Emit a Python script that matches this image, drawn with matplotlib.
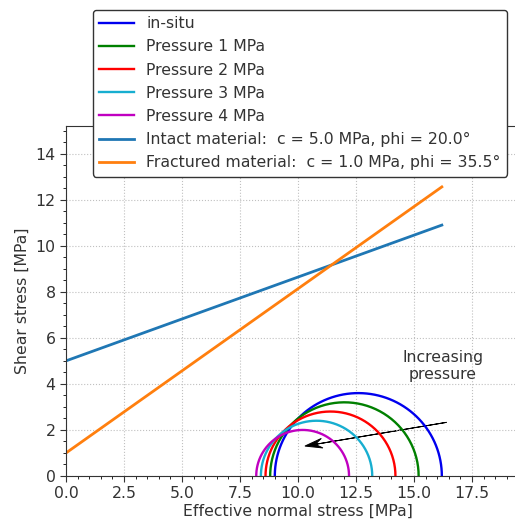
import numpy as np
import matplotlib.pyplot as plt

# Mohr circles for in-situ stress and increasing fluid pressure
labels = ["in-situ", "Pressure 1 MPa", "Pressure 2 MPa", "Pressure 3 MPa", "Pressure 4 MPa"]
sigma3 = [9.0, 8.8, 8.6, 8.4, 8.2]
sigma1 = [16.2, 15.2, 14.2, 13.2, 12.2]
circle_colors = ["#0000ee", "#008000", "#ff0000", "#17aed0", "#c000c0"]

# failure envelopes: tau = c + sigma * tan(phi)
env_names = ["Intact material", "Fractured material"]
cohesion = [5.0, 1.0]
phi_deg = [20.0, 35.5]
env_colors = ["#1f77b4", "#ff7f0e"]

plt.rcParams["font.family"] = "DejaVu Sans"
plt.rcParams["font.size"] = 11.3
dark = "#333333"

fig = plt.figure(figsize=(5.15, 5.26), dpi=100)
ax = fig.add_axes([66 / 515, 50 / 526, 464 / 515, 350 / 526])

theta = np.linspace(0, np.pi, 200)
for s3, s1, col, lab in zip(sigma3, sigma1, circle_colors, labels):
    c = (s1 + s3) / 2
    r = (s1 - s3) / 2
    ax.plot(c + r * np.cos(theta), r * np.sin(theta), color=col, lw=1.7, label=lab)

sig = np.linspace(0, max(sigma1), 50)
for name, c0, ph, col in zip(env_names, cohesion, phi_deg, env_colors):
    ax.plot(sig, c0 + sig * np.tan(np.radians(ph)), color=col, lw=2,
            label=f"{name}:  c = {c0:.1f} MPa, phi = {ph:.1f}°")

ax.arrow(16.4, 2.33, -6.1, -1.03, head_width=0.42, head_length=0.75, overhang=0.4,
         length_includes_head=True, color="k", lw=0.7)
ax.text(16.25, 4.78, "Increasing\npressure", ha="center", va="center", color=dark)

ax.set_xlim(0, 20)
ax.set_ylim(0, 15.2)
ax.set_xticks(np.arange(0, 20, 2.5))
ax.set_yticks(np.arange(0, 16, 2))
ax.minorticks_on()
ax.grid(True, which="major", ls=":", color="#c0c0c0", lw=0.8)
ax.tick_params(colors=dark, labelcolor=dark)
ax.tick_params(which="major", length=4)
ax.tick_params(which="minor", length=2.5)
for sp in ax.spines.values():
    sp.set_color(dark)
ax.set_xlabel("Effective normal stress [MPa]", color=dark, labelpad=2)
ax.set_ylabel("Shear stress [MPa]", color=dark)

leg = ax.legend(loc="upper left", bbox_to_anchor=(93 / 515, 1 - 10 / 526),
                bbox_transform=fig.transFigure, borderaxespad=0, framealpha=1,
                edgecolor=dark, handlelength=2.2, labelspacing=0.52)
leg.get_frame().set_linewidth(1.0)
for t in leg.get_texts():
    t.set_color(dark)

fig.savefig("out.png", dpi=100)
